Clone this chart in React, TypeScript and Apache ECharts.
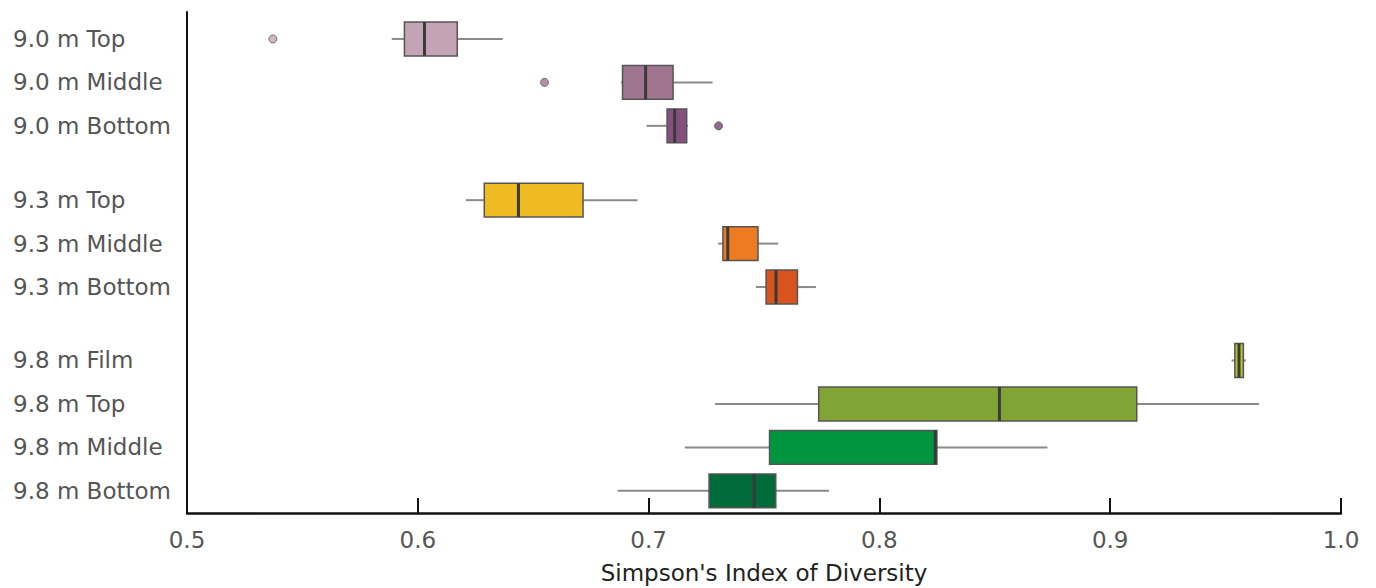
import React, { useEffect, useRef } from "react";
import * as echarts from "echarts";

const categories = [
  "9.0 m Top",
  "9.0 m Middle",
  "9.0 m Bottom",
  "9.3 m Top",
  "9.3 m Middle",
  "9.3 m Bottom",
  "9.8 m Film",
  "9.8 m Top",
  "9.8 m Middle",
  "9.8 m Bottom",
];
// positions of rows along the category direction (groups separated by gaps)
const rowPositions = [0, 1, 2, 3.71, 4.71, 5.71, 7.4, 8.4, 9.4, 10.4];
const whiskerLow = [0.5887, 0.688, 0.6991, 0.6209, 0.7301, 0.7465, 0.9526, 0.7288, 0.7157, 0.6866];
const q1 = [0.5942, 0.6887, 0.708, 0.6288, 0.7322, 0.7509, 0.954, 0.7737, 0.7524, 0.7262];
const median = [0.6029, 0.6987, 0.7113, 0.6436, 0.7343, 0.7552, 0.9558, 0.852, 0.8242, 0.7457];
const q3 = [0.6171, 0.7106, 0.7165, 0.6716, 0.7474, 0.7645, 0.9577, 0.9115, 0.8249, 0.7551];
const whiskerHigh = [0.6368, 0.7277, 0.7171, 0.6952, 0.7561, 0.7725, 0.9588, 0.9645, 0.8728, 0.7782];
const outlierValues = [0.5372, 0.6549, 0.7303];
const outlierRows = [0, 1, 2];

const boxColors = [
  "#c4a3b5",
  "#a0758f",
  "#85507f",
  "#f0bb22",
  "#ee7b22",
  "#d9531e",
  "#b5c22a",
  "#80a534",
  "#00963f",
  "#006b3b",
];
const outlierColors = ["#c4a3b5", "#a0758f", "#6e4a6c"];

const xMin = 0.5;
const xMax = 1.0;
const xInterval = 0.1;
const axisTitle = "Simpson's Index of Diversity";

const FONT = '"DejaVu Sans", sans-serif';

export default function App() {
  const ref = useRef<HTMLDivElement>(null);

  useEffect(() => {
    if (!ref.current) return;
    const chart = echarts.init(ref.current, undefined, { renderer: "svg" });

    const boxData = categories.map((_, i) => [
      rowPositions[i],
      whiskerLow[i],
      q1[i],
      median[i],
      q3[i],
      whiskerHigh[i],
    ]);

    const halfBox = 0.39;

    const option: any = {
      animation: false,
      backgroundColor: "#ffffff",
      grid: {
        left: 187,
        right: 35,
        top: 12,
        bottom: 75,
        containLabel: false,
        outerBoundsMode: "none",
      },
      xAxis: {
        type: "value",
        min: xMin,
        max: xMax,
        interval: xInterval,
        name: axisTitle,
        nameLocation: "middle",
        nameGap: 47,
        nameTextStyle: { fontSize: 23, lineHeight: 26, color: "#222", fontFamily: FONT },
        axisLine: { show: true, onZero: false, lineStyle: { color: "#111", width: 2.5 } },
        axisTick: { show: true, inside: true, length: 15, lineStyle: { color: "#111", width: 2 } },
        axisLabel: {
          fontSize: 23,
          color: "#555",
          fontFamily: FONT,
          margin: 15,
          formatter: (v: number) => v.toFixed(1),
        },
        splitLine: { show: false },
      },
      yAxis: {
        type: "value",
        inverse: true,
        min: -0.62,
        max: 10.91,
        axisLine: { show: true, onZero: false, lineStyle: { color: "#111", width: 2 } },
        axisTick: { show: false },
        axisLabel: { show: false },
        splitLine: { show: false },
      },
      series: [
        {
          type: "custom",
          name: "boxes",
          data: boxData,
          encode: { x: [1, 2, 3, 4, 5], y: 0 },
          renderItem: (params: any, api: any) => {
            const i = params.dataIndex;
            const pos = api.value(0);
            const wl = api.coord([api.value(1), pos]);
            const b1 = api.coord([api.value(2), pos - halfBox]);
            const md = api.coord([api.value(3), pos]);
            const b3 = api.coord([api.value(4), pos + halfBox]);
            const wh = api.coord([api.value(5), pos]);
            const yc = wl[1];
            const yTop = b1[1];
            const yBot = b3[1];
            return {
              type: "group",
              children: [
                {
                  type: "line",
                  shape: { x1: wl[0], y1: yc, x2: b1[0], y2: yc },
                  style: { stroke: "#8a8a8a", lineWidth: 2 },
                },
                {
                  type: "line",
                  shape: { x1: b3[0], y1: yc, x2: wh[0], y2: yc },
                  style: { stroke: "#8a8a8a", lineWidth: 2 },
                },
                {
                  type: "rect",
                  shape: { x: b1[0], y: yTop, width: b3[0] - b1[0], height: yBot - yTop },
                  style: { fill: boxColors[i], stroke: "#555", lineWidth: 1.5 },
                },
                {
                  type: "line",
                  shape: { x1: md[0], y1: yTop, x2: md[0], y2: yBot },
                  style: { stroke: "#3a3a3a", lineWidth: 3 },
                },
              ],
            };
          },
          z: 2,
        },
        {
          type: "scatter",
          name: "outliers",
          symbol: "circle",
          symbolSize: 8,
          data: outlierValues.map((v, k) => ({
            value: [v, rowPositions[outlierRows[k]]],
            itemStyle: { color: outlierColors[k], borderColor: "#555", borderWidth: 1 },
          })),
          z: 3,
        },
        {
          type: "custom",
          name: "labels",
          data: rowPositions.map((p) => [xMin, p]),
          encode: { x: 0, y: 1 },
          clip: false,
          renderItem: (params: any, api: any) => {
            const c = api.coord([api.value(0), api.value(1)]);
            return {
              type: "text",
              x: 13,
              y: c[1],
              style: {
                text: categories[params.dataIndex],
                fill: "#555",
                fontSize: 23,
                fontFamily: FONT,
                align: "left",
                verticalAlign: "middle",
              },
            };
          },
        },
      ],
    };

    chart.setOption(option);
    return () => {
      chart.dispose();
    };
  }, []);

  return (
    <div
      ref={ref}
      style={{ position: "fixed", left: 0, top: 0, width: 1376, height: 588, background: "#fff" }}
    />
  );
}
